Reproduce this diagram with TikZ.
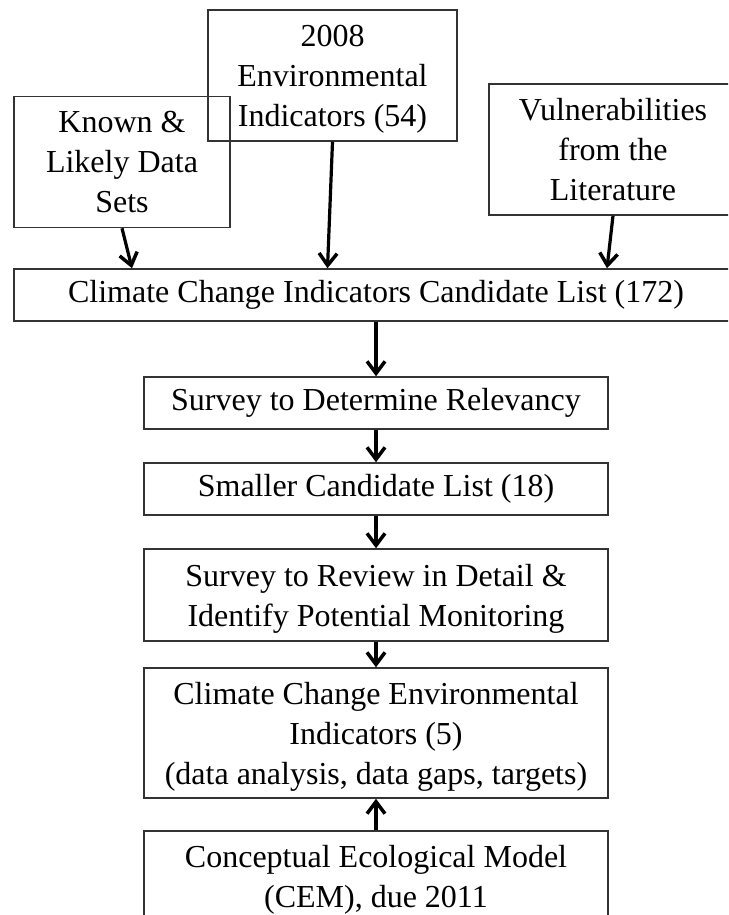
\documentclass[tikz,border=0pt]{standalone}
\usepackage{fontspec}
\setmainfont{Liberation Serif}
\usetikzlibrary{arrows.meta}

\tikzset{
    box/.style={rectangle,draw=black!80,line width=1.5pt,inner sep=0pt,align=center,
        font=\fontsize{32}{40}\selectfont},
    midbox/.style={box,minimum width=464pt},
    flow/.style={-{Straight Barb[length=12pt,width=18pt,line width=3.5pt]},line width=3.2pt}
}

\begin{document}
\begin{tikzpicture}[x=1pt,y=-1pt]
    \useasboundingbox (0,0) rectangle (728,915);
    \clip (0,0) rectangle (728,915);

    % nodes
    \node (env) at (332.5,75.5) [box,minimum width=249pt,minimum height=131pt,text depth=0pt] {2008\\Environmental\\Indicators (54)};
    \node (known) at (122,162) [box,minimum width=216pt,minimum height=131pt,text depth=0pt] {Known \&\\Likely Data\\Sets};
    \node (vuln) at (613,149.5) [box,minimum width=248pt,minimum height=131pt,text depth=0pt] {Vulnerabilities\\from the\\Literature};
    \node (cand) at (376,295) [box,minimum width=724pt,minimum height=52pt] {Climate Change Indicators Candidate List (172)};
    \node (relev) at (376,403) [midbox,minimum height=52pt] {Survey to Determine Relevancy};
    \node (small) at (376,489) [midbox,minimum height=52pt] {Smaller Candidate List (18)};
    \node (review) at (376,595) [midbox,minimum height=92pt,text depth=0pt] {Survey to Review in Detail \&\\Identify Potential Monitoring};
    \node (ccei) at (376,733) [midbox,minimum height=130pt,text depth=0pt] {Climate Change Environmental\\Indicators (5)\\(data analysis, data gaps, targets)};
    \node (cem) at (376,830) [midbox,anchor=north,inner ysep=15pt] {Conceptual Ecological Model\\(CEM), due 2011};

    % paths
    \draw[flow] (known.south) -- ([xshift=10pt]known.south |- cand.north); % known -> cand
    \draw[flow] (env.south) -- ([xshift=-5pt]env.south |- cand.north); % env -> cand
    \draw[flow] (vuln.south) -- ([xshift=-6pt]vuln.south |- cand.north); % vuln -> cand
    \draw[flow] (cand.south) -- (relev.north); % cand -> relev
    \draw[flow] (relev.south) -- (small.north); % relev -> small
    \draw[flow] (small.south) -- (review.north); % small -> review
    \draw[flow] (review.south) -- (ccei.north); % review -> ccei
    \draw[flow] (cem.north) -- (ccei.south); % cem -> ccei

\end{tikzpicture}
\end{document}
